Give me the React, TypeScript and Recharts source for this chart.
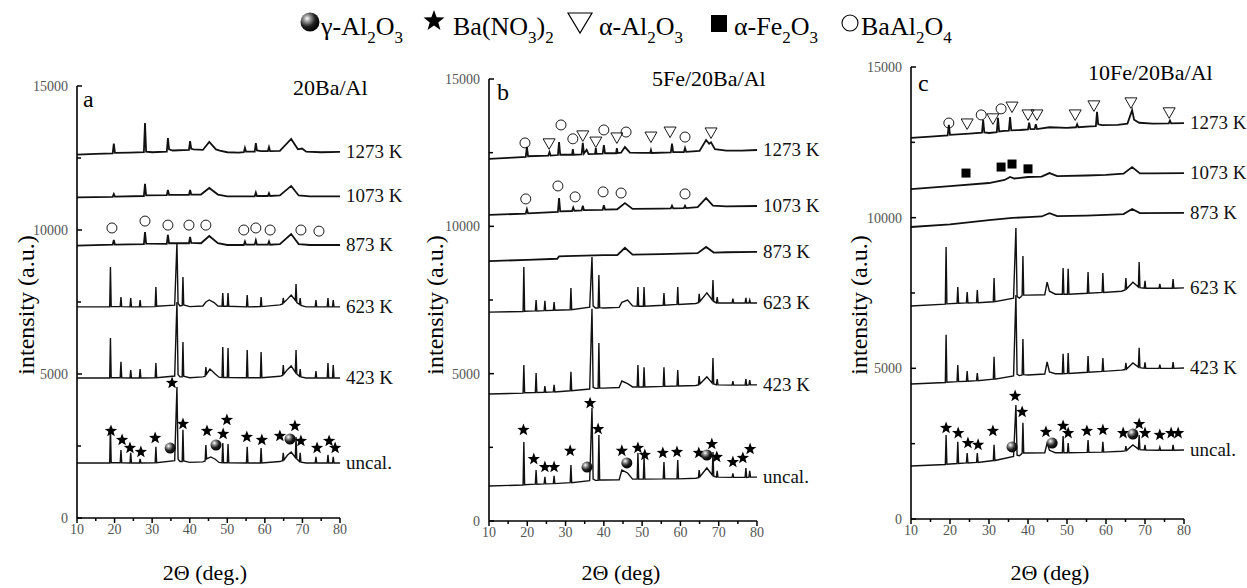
import { ComposedChart, Line, Scatter, XAxis, YAxis } from 'recharts'

const W = 1247
const H = 588
const FONT = 'Liberation Serif, Times New Roman, serif'

type Pt = [number, number]

const xTicks = [10, 15, 20, 25, 30, 35, 40, 45, 50, 55, 60, 65, 70, 75, 80]
const yTicks = [0, 2500, 5000, 7500, 10000, 12500, 15000]
const tempLabels = ['1273 K', '1073 K', '873 K', '623 K', '423 K', 'uncal.']

// ---- panel a: 20Ba/Al ----
const a1273: Pt[] = [[10, 12620], [15, 12640], [19.5, 12660], [19.8, 13000], [20.1, 12680], [24, 12690], [27.8, 12700], [28.1, 13710], [28.4, 12720], [30, 12700], [33.9, 12720], [34.2, 13190], [34.5, 12800], [35.5, 12760], [39.8, 12780], [40.1, 13090], [40.4, 12820], [41, 12800], [43.5, 12780], [45.2, 13060], [47, 12800], [48, 12760], [50, 12700], [53, 12690], [54.4, 12700], [54.7, 12850], [55, 12720], [57.3, 12720], [57.6, 13020], [57.9, 12760], [59, 12740], [60.8, 12740], [61.1, 12880], [61.4, 12740], [64, 12750], [67, 13160], [68.8, 12800], [69.9, 12830], [71, 12720], [75, 12700], [80, 12710]]
const a1073: Pt[] = [[10, 11130], [19.5, 11150], [19.8, 11250], [20.1, 11160], [27.8, 11180], [28.1, 11600], [28.4, 11200], [33.9, 11210], [34.2, 11390], [34.5, 11220], [39.8, 11220], [40.1, 11390], [40.4, 11230], [43, 11230], [45.2, 11460], [47.5, 11230], [50, 11170], [57.3, 11170], [57.6, 11300], [57.9, 11180], [60.8, 11180], [61.1, 11280], [61.4, 11180], [64, 11200], [67, 11530], [69, 11200], [72, 11170], [80, 11170]]
const a873: Pt[] = [[10, 9460], [19.5, 9490], [19.8, 9650], [20.1, 9490], [27.8, 9510], [28.1, 9930], [28.4, 9530], [33.9, 9520], [34.2, 9830], [34.5, 9540], [39.8, 9540], [40.1, 9760], [40.4, 9550], [43, 9540], [45.2, 9790], [47.5, 9540], [50, 9480], [54.4, 9480], [54.7, 9600], [55, 9490], [57.3, 9490], [57.6, 9640], [57.9, 9490], [60.8, 9490], [61.1, 9600], [61.4, 9490], [64, 9510], [67, 9860], [69, 9510], [72, 9480], [80, 9480]]
const a623: Pt[] = [[10, 7330], [18.7, 7330], [18.9, 8715], [19.1, 7340], [21.5, 7340], [21.7, 7670], [21.9, 7340], [24.1, 7330], [24.3, 7640], [24.5, 7330], [26.6, 7330], [26.8, 7570], [27, 7330], [30.8, 7340], [31, 8020], [31.2, 7350], [36, 7390], [36.6, 9550], [36.9, 7450], [37.4, 7360], [38, 7380], [38.2, 8370], [38.4, 7400], [40, 7340], [43.5, 7360], [44.3, 7500], [45.2, 7570], [46.5, 7480], [47.5, 7360], [48.6, 7350], [48.8, 7810], [49, 7350], [50, 7350], [50.2, 7810], [50.4, 7350], [55.1, 7330], [55.3, 7740], [55.5, 7330], [58.8, 7340], [59, 7670], [59.2, 7340], [64, 7400], [64.7, 7430], [64.9, 7640], [65.1, 7480], [66, 7600], [67, 7740], [68.1, 7560], [68.3, 8120], [68.5, 7480], [69.2, 7420], [69.4, 7640], [69.6, 7380], [71, 7330], [73.4, 7330], [73.6, 7570], [73.8, 7330], [76.6, 7330], [76.8, 7640], [77, 7330], [78, 7330], [78.2, 7570], [78.4, 7330], [80, 7330]]
const a423: Pt[] = [[10, 4860], [18.7, 4860], [18.9, 6250], [19.1, 4870], [21.5, 4870], [21.7, 5420], [21.9, 4870], [24.1, 4860], [24.3, 5140], [24.5, 4860], [26.6, 4860], [26.8, 5170], [27, 4860], [30.8, 4870], [31, 5380], [31.2, 4870], [36, 4930], [36.6, 7500], [36.9, 4980], [37.4, 4900], [38, 4900], [38.2, 6110], [38.4, 4920], [40, 4870], [43.5, 4900], [44.1, 4920], [44.3, 5240], [44.5, 5000], [45.4, 5170], [46.8, 5000], [47.8, 4890], [48.6, 4880], [48.8, 5940], [49, 4880], [50, 4880], [50.2, 5900], [50.4, 4880], [55.1, 4870], [55.3, 5830], [55.5, 4870], [58.8, 4870], [59, 5760], [59.2, 4870], [64, 4920], [64.7, 4950], [64.9, 5310], [65.1, 5000], [66, 5150], [67, 5280], [68.1, 5060], [68.3, 5830], [68.5, 5000], [69.2, 4920], [69.4, 5170], [69.6, 4900], [71, 4860], [73.4, 4860], [73.6, 5100], [73.8, 4860], [76.6, 4860], [76.8, 5380], [77, 4860], [78, 4860], [78.2, 5310], [78.4, 4860], [80, 4860]]
const aUncal: Pt[] = [[10, 1910], [18.7, 1910], [18.9, 3160], [19.1, 1920], [21.5, 1920], [21.7, 2360], [21.9, 1920], [24.1, 1910], [24.3, 2260], [24.5, 1910], [26.6, 1910], [26.8, 2050], [27, 1910], [30.8, 1920], [31, 2470], [31.2, 1920], [36, 1990], [36.6, 4550], [36.9, 2050], [37.4, 1960], [38, 1960], [38.2, 3060], [38.4, 1980], [40, 1930], [43.5, 1950], [44.1, 1980], [44.3, 2530], [44.5, 2050], [45.6, 2120], [46.8, 2040], [47.8, 1930], [48.6, 1920], [48.8, 2600], [49, 1920], [50, 1920], [50.2, 2570], [50.4, 1920], [55.1, 1910], [55.3, 2470], [55.5, 1910], [58.8, 1910], [59, 2430], [59.2, 1910], [64, 1960], [64.7, 1990], [64.9, 2260], [65.1, 2020], [66, 2180], [67, 2290], [68.1, 2100], [68.3, 2810], [68.5, 2050], [69.2, 1960], [69.4, 2260], [69.6, 1940], [71, 1910], [73.4, 1910], [73.6, 2120], [73.8, 1910], [76.6, 1910], [76.8, 2190], [77, 1910], [78, 1910], [78.2, 2120], [78.4, 1910], [80, 1910]]

const aStars: Pt[] = [[19.05, 3021], [22, 2708], [24.1, 2430], [27, 2291], [30.8, 2778], [35.3, 4687], [38.2, 3264], [44.6, 3021], [48.9, 2916], [49.9, 3403], [55.2, 2812], [59.2, 2708], [64, 2847], [68, 3194], [69.6, 2673], [73.9, 2430], [77.1, 2673], [78.7, 2430]]
const aSpheres: Pt[] = [[34.8, 2430], [47, 2535], [66.7, 2743]]
const aCircles: Pt[] = [[19.3, 10070], [28.1, 10310], [34.2, 10170], [39.8, 10170], [44.3, 10170], [54.4, 10000], [57.6, 10070], [61.4, 10000], [69.6, 10000], [74.4, 9960]]

// ---- panel b: 5Fe/20Ba/Al ----
const b1273: Pt[] = [[10, 12290], [15, 12320], [19.6, 12360], [19.9, 12700], [20.2, 12380], [25.5, 12400], [25.8, 12520], [26.1, 12400], [28, 12420], [28.3, 12860], [28.6, 12430], [31.7, 12430], [31.9, 12620], [32.1, 12430], [34.2, 12440], [34.5, 12830], [34.8, 12470], [35.5, 12600], [36, 12450], [37.7, 12460], [37.9, 12650], [38.1, 12460], [39.7, 12470], [40, 12760], [40.3, 12480], [43.2, 12480], [43.4, 12650], [43.6, 12490], [44.5, 12500], [45.5, 12690], [46.8, 12500], [50, 12490], [52.1, 12490], [52.3, 12590], [52.5, 12490], [57.5, 12510], [57.8, 12810], [58.1, 12520], [60.9, 12520], [61.2, 12660], [61.5, 12530], [65, 12560], [66.7, 12930], [67.5, 12800], [68, 12850], [69, 12620], [72, 12570], [76, 12570], [80, 12590]]
const b1073: Pt[] = [[10, 10390], [19.6, 10430], [19.9, 10580], [20.2, 10440], [28, 10490], [28.3, 10960], [28.6, 10510], [31.7, 10520], [32, 10640], [32.3, 10530], [34.2, 10540], [34.5, 10700], [34.8, 10550], [39.7, 10560], [40, 10720], [40.3, 10570], [43.5, 10580], [45.5, 10790], [47.5, 10590], [55, 10600], [57.5, 10610], [57.8, 10700], [58.1, 10610], [60.9, 10620], [61.2, 10700], [61.5, 10620], [64.5, 10650], [66.7, 10960], [68.5, 10700], [72, 10680], [80, 10690]]
const b873: Pt[] = [[10, 8820], [20, 8860], [27.8, 8900], [28.3, 8980], [30, 8990], [40, 9020], [43.5, 9020], [45.5, 9270], [47.5, 9040], [55, 9060], [64.5, 9090], [66.7, 9300], [68.7, 9110], [72, 9120], [80, 9130]]
const b623: Pt[] = [[10, 7090], [18.9, 7110], [19.1, 8620], [19.3, 7120], [22.1, 7130], [22.3, 7500], [22.5, 7130], [24.4, 7140], [24.6, 7470], [24.8, 7140], [26.8, 7150], [27, 7430], [27.2, 7150], [31.2, 7170], [31.4, 7910], [31.6, 7170], [36.3, 7260], [36.9, 8960], [37.2, 7300], [37.8, 7230], [38.5, 7230], [38.7, 8350], [38.9, 7240], [40, 7230], [44, 7250], [44.7, 7420], [46.2, 7500], [47.5, 7300], [48.7, 7290], [48.9, 7940], [49.1, 7290], [50.3, 7290], [50.5, 7940], [50.7, 7290], [55.5, 7320], [55.7, 7740], [55.9, 7320], [59.1, 7350], [59.3, 7940], [59.5, 7350], [64, 7380], [64.7, 7410], [64.9, 7710], [65.1, 7450], [66.9, 7740], [68.3, 7500], [68.5, 8180], [68.7, 7450], [69.4, 7400], [69.6, 7600], [69.8, 7400], [73.5, 7400], [73.7, 7550], [73.9, 7400], [76.9, 7400], [77.1, 7570], [77.3, 7400], [77.9, 7400], [78.1, 7500], [78.3, 7400], [80, 7400]]
const b423: Pt[] = [[10, 4310], [18.9, 4340], [19.1, 5290], [19.3, 4350], [22.1, 4360], [22.3, 5020], [22.5, 4360], [24.4, 4370], [24.6, 4580], [24.8, 4370], [26.8, 4380], [27, 4620], [27.2, 4380], [31.2, 4420], [31.4, 5060], [31.6, 4420], [36.3, 4480], [36.9, 7200], [37.2, 4540], [37.8, 4500], [38.5, 4500], [38.7, 6040], [38.9, 4510], [40, 4510], [44, 4530], [44.7, 4750], [46.2, 4660], [47.5, 4550], [48.7, 4550], [48.9, 5290], [49.1, 4550], [50.3, 4550], [50.5, 5220], [50.7, 4550], [55.5, 4570], [55.7, 5220], [55.9, 4570], [59.1, 4580], [59.3, 5120], [59.5, 4580], [64, 4600], [64.7, 4620], [64.9, 4920], [65.1, 4650], [66.9, 4890], [68.3, 4680], [68.5, 5530], [68.7, 4650], [69.4, 4620], [69.6, 4820], [69.8, 4620], [73.5, 4610], [73.7, 4750], [73.9, 4610], [76.9, 4610], [77.1, 4820], [77.3, 4610], [77.9, 4620], [78.1, 4780], [78.3, 4620], [80, 4620]]
const bUncal: Pt[] = [[10, 1190], [18.9, 1220], [19.1, 2680], [19.3, 1230], [22.1, 1250], [22.3, 1730], [22.5, 1250], [24.4, 1260], [24.6, 1500], [24.8, 1260], [26.8, 1270], [27, 1530], [27.2, 1270], [31.2, 1300], [31.4, 1900], [31.6, 1300], [36.3, 1370], [36.9, 3840], [37.2, 1420], [37.8, 1380], [38.5, 1380], [38.7, 2920], [38.9, 1390], [40, 1390], [44, 1400], [44.7, 1730], [46.2, 1630], [47.5, 1420], [48.7, 1420], [48.9, 2310], [49.1, 1420], [50.3, 1420], [50.5, 2170], [50.7, 1420], [55.5, 1430], [55.7, 2000], [55.9, 1430], [59.1, 1430], [59.3, 2070], [59.5, 1430], [64, 1450], [64.7, 1470], [64.9, 1730], [65.1, 1500], [66.9, 1800], [68.3, 1560], [68.5, 2340], [68.7, 1520], [69.4, 1490], [69.6, 1700], [69.8, 1490], [73.5, 1480], [73.7, 1620], [73.9, 1480], [76.9, 1480], [77.1, 1800], [77.3, 1480], [77.9, 1490], [78.1, 1700], [78.3, 1490], [80, 1490]]

const bStars: Pt[] = [[19, 3090], [21.7, 2100], [24.6, 1830], [27, 1830], [31.2, 2380], [36.4, 4000], [38.5, 3120], [44.7, 2380], [48.9, 2480], [50.7, 2240], [55.4, 2310], [59.1, 2340], [64.8, 2310], [68.2, 2610], [69.5, 2170], [73.7, 2000], [76.3, 2140], [78.2, 2440]]
const bSpheres: Pt[] = [[35.6, 1830], [46, 1970], [66.9, 2240]]
const bCircles: Pt[] = [[19.4, 12830], [28.8, 13440], [31.9, 12970], [40, 13270], [45.8, 13200], [61.2, 13030], [19.6, 10930], [28, 11370], [32.5, 11000], [39.8, 11170], [44.5, 11130], [61.2, 11100]]
const bTriangles: Pt[] = [[25.7, 12800], [34.5, 13070], [37.9, 12860], [43.4, 13000], [52.3, 13030], [57.3, 13200], [68, 13170]]

// ---- panel c: 10Fe/20Ba/Al ----
const c1273: Pt[] = [[10, 12650], [15, 12690], [19.4, 12730], [19.7, 13080], [20, 12750], [25, 12790], [28.2, 12820], [28.5, 13240], [28.8, 12830], [30, 12810], [32, 12840], [32.3, 13310], [32.6, 12860], [34, 12880], [35.1, 12890], [35.4, 13340], [35.7, 12900], [38, 12910], [40, 12930], [40.3, 13150], [40.6, 12940], [41.7, 12940], [42, 13100], [42.3, 12940], [45.5, 13000], [50, 12980], [52.3, 13000], [52.6, 13100], [52.9, 13000], [56, 13030], [57.4, 13040], [57.7, 13510], [58, 13100], [59, 13070], [63, 13080], [65.5, 13120], [66.7, 13570], [67.2, 13250], [68.5, 13150], [72, 13120], [76.1, 13130], [76.4, 13220], [76.7, 13130], [80, 13140]]
const c1073: Pt[] = [[10, 10950], [20, 11050], [30, 11150], [34, 11250], [35.4, 11350], [36.5, 11300], [40, 11350], [43.5, 11360], [45.5, 11480], [47.5, 11380], [55, 11400], [60, 11420], [64.5, 11460], [66.7, 11680], [68.7, 11470], [72, 11470], [80, 11480]]
const c873: Pt[] = [[10, 9690], [20, 9780], [30, 9920], [36, 9990], [40, 10020], [43.5, 10040], [45.5, 10150], [47.5, 10050], [55, 10070], [60, 10090], [64.5, 10120], [66.7, 10290], [68.7, 10150], [80, 10160]]
const c623: Pt[] = [[10, 7070], [18.8, 7130], [19, 9030], [19.2, 7140], [21.8, 7160], [22, 7700], [22.2, 7160], [24.2, 7170], [24.4, 7530], [24.6, 7170], [26.8, 7180], [27, 7600], [27.2, 7180], [31.1, 7210], [31.3, 8000], [31.5, 7210], [36.3, 7330], [36.9, 9660], [37.2, 7380], [37.8, 7330], [38.5, 7420], [38.7, 8730], [38.9, 7430], [40, 7430], [44.3, 7440], [44.9, 7860], [45.5, 7560], [47, 7460], [48.8, 7460], [49, 8330], [49.2, 7460], [50.1, 7460], [50.3, 8300], [50.5, 7460], [55.2, 7490], [55.4, 8200], [55.6, 7490], [59, 7520], [59.2, 8160], [59.4, 7520], [64, 7560], [64.9, 7600], [65.1, 8000], [65.3, 7640], [66.9, 7860], [68.3, 7700], [68.5, 8530], [68.7, 7680], [69.8, 7660], [70, 7900], [70.2, 7660], [73.6, 7660], [73.8, 7800], [74, 7660], [77, 7660], [77.2, 7960], [77.4, 7660], [80, 7670]]
const c423: Pt[] = [[10, 4480], [18.8, 4530], [19, 6110], [19.2, 4540], [21.8, 4560], [22, 5110], [22.2, 4560], [24.2, 4570], [24.4, 4910], [24.6, 4570], [26.8, 4590], [27, 4840], [27.2, 4590], [31.1, 4640], [31.3, 5380], [31.5, 4640], [36.3, 4750], [36.9, 7430], [37.2, 4800], [37.8, 4760], [38.5, 4780], [38.7, 5970], [38.9, 4790], [40, 4780], [44.3, 4810], [44.9, 5210], [45.5, 4880], [47, 4820], [48.8, 4820], [49, 5480], [49.2, 4820], [50.1, 4830], [50.3, 5510], [50.5, 4830], [55.2, 4870], [55.4, 5410], [55.6, 4870], [59, 4900], [59.2, 5340], [59.4, 4900], [64, 4940], [64.9, 4960], [65.1, 5180], [65.3, 4980], [66.9, 5180], [68.3, 5040], [68.5, 5680], [68.7, 5020], [69.8, 5000], [70, 5200], [70.2, 5000], [73.6, 5000], [73.8, 5120], [74, 5000], [77, 5000], [77.2, 5210], [77.4, 5000], [80, 5010]]
const cUncal: Pt[] = [[10, 1760], [18.8, 1810], [19, 2790], [19.2, 1820], [21.8, 1840], [22, 2560], [22.2, 1840], [24.2, 1860], [24.4, 2190], [24.6, 1860], [26.8, 1880], [27, 2190], [27.2, 1880], [31.1, 1940], [31.3, 2460], [31.5, 1940], [36.3, 2080], [36.9, 3780], [37.2, 2120], [37.8, 2100], [38.5, 2180], [38.7, 3190], [38.9, 2190], [40, 2190], [44.3, 2200], [44.9, 2520], [45.5, 2280], [47, 2200], [48.8, 2200], [49, 2750], [49.2, 2200], [50.1, 2200], [50.3, 2520], [50.5, 2200], [55.2, 2210], [55.4, 2620], [55.6, 2210], [59, 2220], [59.2, 2560], [59.4, 2220], [64, 2250], [64.9, 2260], [65.1, 2420], [65.3, 2280], [66.9, 2460], [68.3, 2320], [68.5, 2790], [68.7, 2300], [69.8, 2290], [70, 2460], [70.2, 2290], [73.6, 2280], [73.8, 2380], [74, 2280], [77, 2280], [77.2, 2460], [77.4, 2280], [80, 2290]]

const cStars: Pt[] = [[19, 3020], [22.1, 2850], [24.6, 2520], [27.2, 2460], [31, 2920], [36.7, 4080], [38.5, 3550], [44.6, 2890], [49, 3090], [50.3, 2850], [55.1, 2920], [59.2, 2950], [64.4, 2850], [68.5, 3150], [70, 2850], [73.8, 2790], [76.7, 2850], [78.5, 2850]]
const cSpheres: Pt[] = [[35.9, 2390], [46.2, 2520], [66.9, 2820]]
const cCircles: Pt[] = [[19.7, 13140], [28, 13410], [33.1, 13610]]
const cTriangles: Pt[] = [[24.4, 13110], [31, 13280], [35.9, 13670], [40, 13410], [42.3, 13410], [52.1, 13410], [56.9, 13710], [66.4, 13810], [76.2, 13480]]
const cSquares: Pt[] = [[24.1, 11480], [33.1, 11680], [35.9, 11780], [40, 11620]]

const rows = (pts: Pt[]) => pts.map(([x, y]) => ({ x, y }))

function starPoints(cx: number, cy: number, ro: number, ri: number) {
  const p: string[] = []
  for (let i = 0; i < 10; i++) {
    const a = (-90 + i * 36) * (Math.PI / 180)
    const r = i % 2 ? ri : ro
    p.push(`${cx + r * Math.cos(a)},${cy + r * Math.sin(a)}`)
  }
  return p.join(' ')
}

const StarShape = (p: any) => <polygon points={starPoints(p.cx, p.cy, 6.5, 2.7)} fill="#000" />
const SphereShape = (p: any) => <circle cx={p.cx} cy={p.cy} r={5.5} fill="url(#sphereGrad)" />
const CircleShape = (p: any) => <circle cx={p.cx} cy={p.cy} r={5} fill="none" stroke="#000" strokeWidth={0.9} />
const TriShape = (p: any) => (
  <polygon points={`${p.cx - 6},${p.cy - 5} ${p.cx + 6},${p.cy - 5} ${p.cx},${p.cy + 5.5}`} fill="none" stroke="#000" strokeWidth={0.9} />
)
const SquareShape = (p: any) => <rect x={p.cx - 4.5} y={p.cy - 4.5} width={9} height={9} fill="#000" />
const EndLabel = (p: any) => (
  <text x={p.cx + 6} y={p.cy + 6} style={{ fontFamily: FONT, fontSize: 19 }} fill="#111">
    {p.payload.name}
  </text>
)

// tick lines: x ticks hang below the axis, y ticks point into the plot
const XTick = (p: any) => {
  const v = p.payload.value
  const major = v % 10 === 0
  return (
    <g>
      <line x1={p.x} y1={p.y} x2={p.x} y2={p.y + (major ? 5 : 3)} stroke="#000" strokeWidth={1.5} />
      {major && (
        <text x={p.x} y={p.y + 16} textAnchor="middle" style={{ fontFamily: FONT, fontSize: 14 }} fill="#555">
          {v}
        </text>
      )}
    </g>
  )
}

const YTick = (p: any) => {
  const v = p.payload.value
  const major = v % 5000 === 0
  return (
    <g>
      <line x1={p.x} y1={p.y} x2={p.x + (major ? 5 : 4)} y2={p.y} stroke="#000" strokeWidth={1.5} />
      {major && (
        <text x={p.x - 9} y={p.y + 5} textAnchor="end" style={{ fontFamily: FONT, fontSize: 14 }} fill="#555">
          {v}
        </text>
      )}
    </g>
  )
}

interface Box { left: number; right: number; top: number; bottom: number }
interface Marks { stars: Pt[]; spheres: Pt[]; circles: Pt[]; triangles: Pt[]; squares: Pt[] }

function Panel({ box, traces, marks }: { box: Box; traces: Pt[][]; marks: Marks }) {
  // axes get 1px of room, so take it out of the margins
  const margin = { left: box.left - 1, right: W - box.right, top: box.top, bottom: H - box.bottom - 1 }
  const ends = traces.map((t, i) => ({ x: t[t.length - 1][0], y: t[t.length - 1][1], name: tempLabels[i] }))
  return (
    <div style={{ position: 'absolute', left: 0, top: 0 }}>
      <ComposedChart width={W} height={H} margin={margin}>
        <XAxis
          type="number"
          dataKey="x"
          domain={[10, 80]}
          ticks={xTicks}
          interval={0}
          height={1}
          tickSize={0}
          tickMargin={0}
          tickLine={false}
          tick={XTick}
          axisLine={{ stroke: '#000', strokeWidth: 1.6 }}
        />
        <YAxis
          type="number"
          dataKey="y"
          domain={[0, 15000]}
          ticks={yTicks}
          interval={0}
          width={1}
          tickSize={0}
          tickMargin={0}
          tickLine={false}
          tick={YTick}
          axisLine={{ stroke: '#000', strokeWidth: 1.6 }}
        />
        {traces.map((t, i) => (
          <Line
            key={i}
            data={rows(t)}
            dataKey="y"
            type="linear"
            stroke="#111"
            strokeWidth={i < 3 ? 1.8 : 1.4}
            dot={false}
            activeDot={false}
            isAnimationActive={false}
          />
        ))}
        <Scatter data={rows(marks.stars)} shape={StarShape} isAnimationActive={false} />
        <Scatter data={rows(marks.spheres)} shape={SphereShape} isAnimationActive={false} />
        <Scatter data={rows(marks.circles)} shape={CircleShape} isAnimationActive={false} />
        <Scatter data={rows(marks.triangles)} shape={TriShape} isAnimationActive={false} />
        <Scatter data={rows(marks.squares)} shape={SquareShape} isAnimationActive={false} />
        <Scatter data={ends} shape={EndLabel} isAnimationActive={false} />
      </ComposedChart>
    </div>
  )
}

const sub = (t: string) => (
  <tspan fontSize={17} dy={8}>
    {t}
  </tspan>
)
const up = (t: string) => <tspan dy={-8}>{t}</tspan>

function Overlay() {
  const txt = { style: { fontFamily: FONT }, fill: '#000' }
  return (
    <svg width={W} height={H} style={{ position: 'absolute', left: 0, top: 0 }}>
      <defs>
        <radialGradient id="sphereGrad" cx="35%" cy="32%" r="70%">
          <stop offset="0%" stopColor="#fff" />
          <stop offset="25%" stopColor="#999" />
          <stop offset="60%" stopColor="#222" />
          <stop offset="100%" stopColor="#000" />
        </radialGradient>
      </defs>
      {/* legend */}
      <circle cx={310} cy={22} r={9.5} fill="url(#sphereGrad)" />
      <text x={321} y={35} fontSize={26} {...txt}>
        γ-Al{sub('2')}{up('O')}{sub('3')}
      </text>
      <polygon points={starPoints(434, 21, 11, 4.5)} fill="#000" />
      <text x={453} y={35} fontSize={26} {...txt}>
        Ba(NO{sub('3')}{up(')')}{sub('2')}
      </text>
      <polygon points="568,13 592,13 580,33" fill="none" stroke="#000" strokeWidth={1.2} />
      <text x={599} y={35} fontSize={26} {...txt}>
        α-Al{sub('2')}{up('O')}{sub('3')}
      </text>
      <rect x={711} y={15} width={16} height={17} fill="#000" />
      <text x={734} y={35} fontSize={26} {...txt}>
        α-Fe{sub('2')}{up('O')}{sub('3')}
      </text>
      <circle cx={850} cy={23} r={8} fill="none" stroke="#000" strokeWidth={1.1} />
      <text x={861} y={35} fontSize={26} {...txt}>
        BaAl{sub('2')}{up('O')}{sub('4')}
      </text>

      {/* panel letters and sample names */}
      <text x={83} y={107} fontSize={24} {...txt}>a</text>
      <text x={497} y={100} fontSize={24} {...txt}>b</text>
      <text x={918} y={91} fontSize={24} {...txt}>c</text>
      <text x={293} y={95} fontSize={22} {...txt}>20Ba/Al</text>
      <text x={652} y={86} fontSize={22} {...txt}>5Fe/20Ba/Al</text>
      <text x={1088} y={80} fontSize={22} {...txt}>10Fe/20Ba/Al</text>

      {/* axis titles */}
      <text x={205} y={580} fontSize={22} textAnchor="middle" {...txt}>2Θ (deg.)</text>
      <text x={621} y={580} fontSize={22} textAnchor="middle" {...txt}>2Θ (deg)</text>
      <text x={1050} y={580} fontSize={22} textAnchor="middle" {...txt}>2Θ (deg)</text>
      {[26, 435, 859].map((cx) => (
        <text
          key={cx}
          x={cx}
          y={305}
          fontSize={24}
          textAnchor="middle"
          dominantBaseline="central"
          transform={`rotate(-90 ${cx} 305)`}
          {...txt}
        >
          intensity (a.u.)
        </text>
      ))}
    </svg>
  )
}

const boxA: Box = { left: 77, right: 340, top: 86, bottom: 518 }
const boxB: Box = { left: 489, right: 757, top: 79, bottom: 521 }
const boxC: Box = { left: 911, right: 1184, top: 67, bottom: 519 }

export default function App() {
  return (
    <div style={{ position: 'absolute', left: 0, top: 0, width: W, height: H, background: '#fff', fontFamily: FONT }}>
      <Overlay />
      <Panel
        box={boxA}
        traces={[a1273, a1073, a873, a623, a423, aUncal]}
        marks={{ stars: aStars, spheres: aSpheres, circles: aCircles, triangles: [], squares: [] }}
      />
      <Panel
        box={boxB}
        traces={[b1273, b1073, b873, b623, b423, bUncal]}
        marks={{ stars: bStars, spheres: bSpheres, circles: bCircles, triangles: bTriangles, squares: [] }}
      />
      <Panel
        box={boxC}
        traces={[c1273, c1073, c873, c623, c423, cUncal]}
        marks={{ stars: cStars, spheres: cSpheres, circles: cCircles, triangles: cTriangles, squares: cSquares }}
      />
    </div>
  )
}
